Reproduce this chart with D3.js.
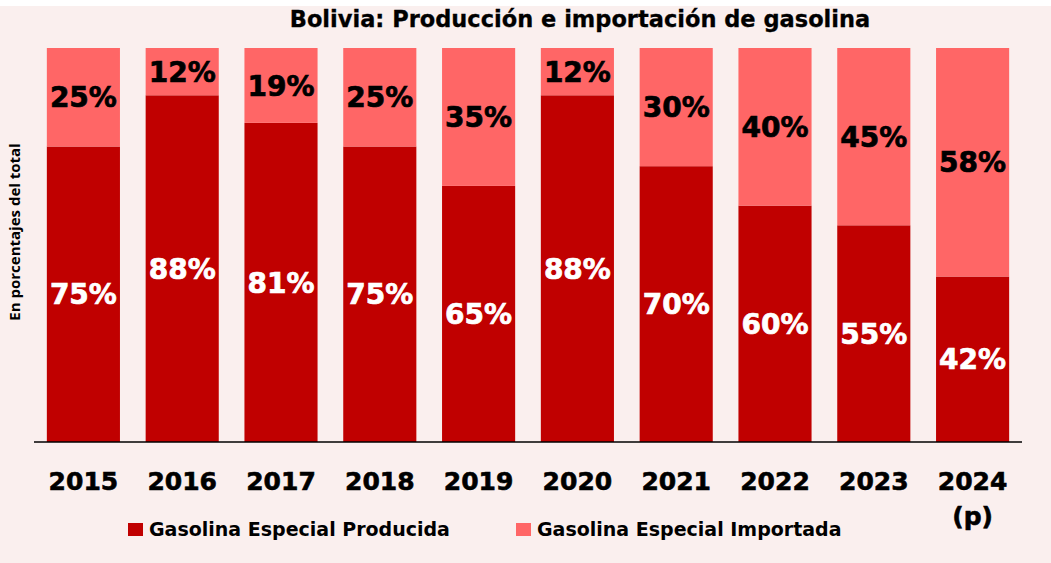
<!DOCTYPE html>
<html>
<head>
<meta charset="utf-8">
<script src="https://cdn.jsdelivr.net/npm/d3@7"></script>
<style>
  html, body { margin: 0; padding: 0; background: #ffffff; }
  svg { display: block; }
</style>
</head>
<body>
<svg id="chart"></svg>
<script>
const years = ["2015", "2016", "2017", "2018", "2019", "2020", "2021", "2022", "2023", "2024"];
const producida = [75, 88, 81, 75, 65, 88, 70, 60, 55, 42];
const importada = [25, 12, 19, 25, 35, 12, 30, 40, 45, 58];
const seriesNames = ["Gasolina Especial Producida", "Gasolina Especial Importada"];
const colors = ["#C00000", "#FF6666"];

const W = 1051, H = 563;
var svg = d3.select("#chart").attr("width", W).attr("height", H);

// background panel (thin white band at top)
svg.append("rect").attr("x", 0).attr("y", 6).attr("width", W).attr("height", H - 6).attr("fill", "#FAEFEE");

var x = d3.scaleBand().domain(years).range([34, 1022]).paddingInner(0.26).paddingOuter(0.13);
var y = d3.scaleLinear().domain([0, 100]).range([442, 48]);

var rows = years.map(function (yr, i) {
    return { year: yr, prod: producida[i], imp: importada[i] };
});

// produced segments
svg.append("g").selectAll("rect")
    .data(rows).enter().append("rect")
    .attr("x", d => x(d.year))
    .attr("width", x.bandwidth())
    .attr("y", d => y(d.prod))
    .attr("height", d => y(0) - y(d.prod))
    .attr("fill", colors[0]);

// imported segments
svg.append("g").selectAll("rect")
    .data(rows).enter().append("rect")
    .attr("x", d => x(d.year))
    .attr("width", x.bandwidth())
    .attr("y", d => y(d.prod + d.imp))
    .attr("height", d => y(d.prod) - y(d.prod + d.imp))
    .attr("fill", colors[1]);

// labels
var lblFont = "'DejaVu Sans', Verdana, sans-serif";
svg.append("g").selectAll("text")
    .data(rows).enter().append("text")
    .attr("x", d => x(d.year) + x.bandwidth() / 2)
    .attr("y", d => (y(0) + y(d.prod)) / 2)
    .attr("dy", "0.36em")
    .attr("text-anchor", "middle")
    .attr("font-family", lblFont).attr("font-weight", "bold").attr("font-size", 28)
    .attr("fill", "#ffffff").attr("stroke", "#ffffff").attr("stroke-width", 0.7)
    .text(d => d.prod + "%");

svg.append("g").selectAll("text")
    .data(rows).enter().append("text")
    .attr("x", d => x(d.year) + x.bandwidth() / 2)
    .attr("y", d => (y(d.prod) + y(d.prod + d.imp)) / 2)
    .attr("dy", "0.36em")
    .attr("text-anchor", "middle")
    .attr("font-family", lblFont).attr("font-weight", "bold").attr("font-size", 28)
    .attr("fill", "#000000").attr("stroke", "#000000").attr("stroke-width", 0.7)
    .text(d => d.imp + "%");

// x axis
var xAxis = svg.append("g")
    .attr("transform", "translate(0," + y(0) + ")")
    .call(d3.axisBottom(x).tickSize(0).tickPadding(0));
xAxis.select(".domain").attr("stroke", "#000").attr("stroke-width", 1.3).attr("d", "M34,0H1022");
xAxis.selectAll(".tick text").remove();
xAxis.selectAll(".tick").append("text")
    .attr("y", 48)
    .attr("text-anchor", "middle")
    .attr("fill", "#000").attr("stroke", "#000").attr("stroke-width", 0.6)
    .attr("font-family", lblFont).attr("font-weight", "bold").attr("font-size", 25)
    .text(d => d);
xAxis.selectAll(".tick").filter(d => d === "2024").append("text")
    .attr("y", 83)
    .attr("text-anchor", "middle")
    .attr("fill", "#000").attr("stroke", "#000").attr("stroke-width", 0.6)
    .attr("font-family", lblFont).attr("font-weight", "bold").attr("font-size", 25)
    .text("(p)");

// title
svg.append("text")
    .attr("x", 580).attr("y", 27)
    .attr("text-anchor", "middle")
    .attr("font-family", lblFont).attr("font-weight", "bold").attr("font-size", 22.5)
    .attr("fill", "#000").attr("stroke", "#000").attr("stroke-width", 0.3)
    .text("Bolivia: Producción e importación de gasolina");

// y label
svg.append("text")
    .attr("transform", "translate(20,232) rotate(-90)")
    .attr("text-anchor", "middle")
    .attr("font-family", "'Liberation Sans Narrow', 'Open Sans', sans-serif")
    .attr("font-weight", "bold").attr("font-size", 15)
    .attr("fill", "#000")
    .text("En porcentajes del total");

// legend
var legX = [128, 516];
var leg = svg.append("g").selectAll("g")
    .data(seriesNames).enter().append("g")
    .attr("transform", (d, i) => "translate(" + legX[i] + ",523)");
leg.append("rect").attr("width", 15).attr("height", 13).attr("fill", (d, i) => colors[i]);
leg.append("text")
    .attr("x", 21).attr("y", 13)
    .attr("font-family", lblFont).attr("font-weight", "bold").attr("font-size", 19)
    .attr("fill", "#000")
    .text(d => d);
</script>
</body>
</html>
